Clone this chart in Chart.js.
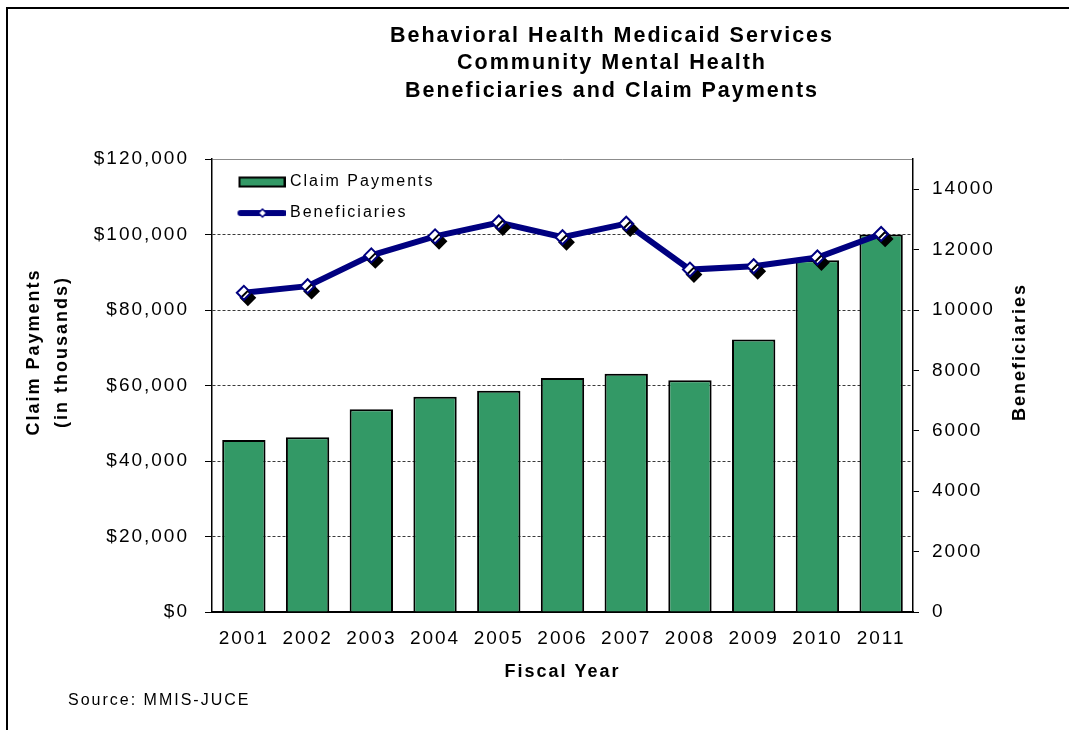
<!DOCTYPE html>
<html>
<head>
<meta charset="utf-8">
<title>Behavioral Health Medicaid Services</title>
<script src="https://cdn.jsdelivr.net/npm/chart.js@4.4.1/dist/chart.umd.min.js"></script>
<style>
  html, body { margin: 0; padding: 0; background: #fff; }
  #wrap { position: relative; width: 1069px; height: 730px; overflow: hidden; }
  #chart { position: absolute; left: 0; top: 0; }
  #frame { position: absolute; left: 6px; top: 7px; right: 0; bottom: 0;
           border-top: 2px solid #000; border-left: 2px solid #000; pointer-events: none; }
</style>
</head>
<body>
<div id="wrap">
  <canvas id="chart" width="1069" height="730"></canvas>
  <div id="frame"></div>
</div>
<script>
// Fiscal years and the two series
const fiscalYears = ['2001', '2002', '2003', '2004', '2005', '2006', '2007', '2008', '2009', '2010', '2011'];
const claimPayments = [45600, 46300, 53700, 57000, 58600, 62000, 63100, 61400, 72200, 93200, 100000];
const beneficiaries = [10570, 10790, 11810, 12440, 12900, 12410, 12860, 11340, 11450, 11740, 12520];

// Axis tick values
const claimTicks = [0, 20000, 40000, 60000, 80000, 100000, 120000];
const beneficiaryTicks = [0, 2000, 4000, 6000, 8000, 10000, 12000, 14000];

// Text
const titleLines = ['Behavioral Health Medicaid Services', 'Community Mental Health', 'Beneficiaries and Claim Payments'];
const leftAxisTitle = ['Claim Payments', '(in thousands)'];
const rightAxisTitle = 'Beneficiaries';
const xAxisTitle = 'Fiscal Year';
const sourceNote = 'Source: MMIS-JUCE';

const FONT = '"Liberation Sans", Arial, Helvetica, sans-serif';
const BAR_GREEN = '#339966';
const NAVY = '#000080';
const SPACING = '2px';

// Legend swatches
function barSwatch() {
  const c = document.createElement('canvas');
  c.width = 62; c.height = 12;
  const g = c.getContext('2d');
  g.fillStyle = BAR_GREEN;
  g.fillRect(16, 1.5, 45, 9);
  g.lineWidth = 2; g.strokeStyle = '#000';
  g.strokeRect(16, 1.5, 45, 9);
  return c;
}
function lineSwatch() {
  const c = document.createElement('canvas');
  c.width = 62; c.height = 14;
  const g = c.getContext('2d');
  g.strokeStyle = NAVY; g.lineWidth = 6; g.lineCap = 'round';
  g.beginPath(); g.moveTo(17, 7); g.lineTo(60, 7); g.stroke();
  g.beginPath();
  g.moveTo(39, 3); g.lineTo(43, 7); g.lineTo(39, 11); g.lineTo(35, 7); g.closePath();
  g.fillStyle = '#fff'; g.fill();
  g.lineWidth = 1.5; g.strokeStyle = NAVY; g.stroke();
  return c;
}
const swatches = [barSwatch(), lineSwatch()];

// Wider tracking for all canvas text
const textSpacing = {
  id: 'textSpacing',
  beforeUpdate(chart) { chart.ctx.letterSpacing = SPACING; },
  beforeDraw(chart) { chart.ctx.letterSpacing = SPACING; }
};

// Title centred over the plot; legend pinned to the top-left of the plot area
const placement = {
  id: 'placement',
  afterLayout(chart) {
    const t = chart.titleBlock;
    if (t) { t.left = 155; t.width = t.right - t.left; }
    const lg = chart.legend;
    const area = chart.chartArea;
    if (lg && area) {
      lg.left = area.left;
      lg.top = area.top;
      lg.right = area.left + lg.width;
      lg.bottom = area.top + lg.height;
    }
  }
};

// Drop shadow under the diamond markers
const markerShadow = {
  id: 'markerShadow',
  beforeDatasetDraw(chart, args) {
    if (args.index !== 2) return;
    const ctx = chart.ctx;
    ctx.save();
    ctx.shadowColor = '#000';
    ctx.shadowBlur = 0;
    ctx.shadowOffsetX = 4;
    ctx.shadowOffsetY = 5;
  },
  afterDatasetDraw(chart, args) {
    if (args.index !== 2) return;
    chart.ctx.restore();
  }
};

// Rotated axis captions and the source note
const captions = {
  id: 'captions',
  afterDraw(chart) {
    const ctx = chart.ctx;
    ctx.save();
    ctx.letterSpacing = SPACING;
    ctx.fillStyle = '#000';
    ctx.textAlign = 'center';
    ctx.textBaseline = 'middle';
    ctx.font = 'bold 18px ' + FONT;
    const midY = 352;
    ctx.save();
    ctx.translate(34, midY);
    ctx.rotate(-Math.PI / 2);
    leftAxisTitle.forEach((line, i) => ctx.fillText(line, 0, i * 28));
    ctx.restore();
    ctx.save();
    ctx.translate(1020, midY);
    ctx.rotate(-Math.PI / 2);
    ctx.fillText(rightAxisTitle, 0, 0);
    ctx.restore();
    ctx.font = '16px ' + FONT;
    ctx.textAlign = 'left';
    ctx.fillText(sourceNote, 68, 701);
    ctx.restore();
  }
};

const tickFont = { family: FONT, size: 19 };

new Chart(document.getElementById('chart'), {
  type: 'bar',
  data: {
    labels: fiscalYears,
    datasets: [
      {
        label: 'Claim Payments',
        data: claimPayments,
        yAxisID: 'y',
        backgroundColor: BAR_GREEN,
        borderColor: '#000',
        borderWidth: 2,
        categoryPercentage: 1,
        barPercentage: 0.68,
        order: 3
      },
      {
        type: 'line',
        label: 'Beneficiaries',
        data: beneficiaries,
        yAxisID: 'y1',
        borderColor: NAVY,
        borderWidth: 6,
        pointRadius: 0,
        tension: 0,
        fill: false,
        order: 2
      },
      {
        type: 'line',
        label: 'Beneficiaries markers',
        data: beneficiaries,
        yAxisID: 'y1',
        showLine: false,
        pointStyle: 'rectRot',
        pointRadius: 7,
        pointBackgroundColor: '#fff',
        pointBorderColor: NAVY,
        pointBorderWidth: 2,
        order: 1
      }
    ]
  },
  options: {
    responsive: false,
    animation: false,
    events: [],
    layout: { padding: { left: 0, right: 0, top: 0, bottom: 43 } },
    plugins: {
      tooltip: { enabled: false },
      title: {
        display: true,
        text: titleLines,
        color: '#000',
        font: { family: FONT, size: 21.5, weight: 'bold', lineHeight: 1.28 },
        padding: { top: 22, bottom: 54.5 }
      },
      legend: {
        position: 'chartArea',
        align: 'start',
        labels: {
          usePointStyle: true,
          pointStyleWidth: 55,
          padding: 15,
          color: '#000',
          font: { family: FONT, size: 16 },
          generateLabels(chart) {
            return [0, 1].map(i => ({
              text: chart.data.datasets[i].label,
              pointStyle: swatches[i],
              datasetIndex: i,
              hidden: false,
              fontColor: '#000',
              fillStyle: 'transparent',
              strokeStyle: 'transparent',
              lineWidth: 0
            }));
          }
        }
      }
    },
    scales: {
      x: {
        grid: { display: false },
        border: { display: true, color: '#000', width: 2 },
        ticks: { color: '#000', font: tickFont, padding: 7 },
        title: {
          display: true,
          text: xAxisTitle,
          color: '#000',
          font: { family: FONT, size: 18, weight: 'bold', lineHeight: 1.2 },
          padding: { top: 4, bottom: 4 }
        },
        afterFit(scale) { scale.height = 75; }
      },
      y: {
        position: 'left',
        min: 0,
        max: 120000,
        afterBuildTicks(scale) { scale.ticks = claimTicks.map(v => ({ value: v })); },
        ticks: {
          color: '#000',
          font: tickFont,
          padding: 16,
          callback: v => '$' + Number(v).toLocaleString('en-US')
        },
        grid: {
          color: ctx => (ctx.tick && ctx.tick.value === 120000) ? '#8c8c8c' : (ctx.tick && ctx.tick.value === 0 ? 'rgba(0,0,0,0)' : '#3a3a3a'),
          lineWidth: 1,
          tickLength: 7,
          tickColor: '#000',
          tickWidth: 1
        },
        border: {
          display: true,
          color: '#000',
          width: 1.5,
          dash: ctx => (ctx.tick && ctx.tick.value === 120000) ? [] : [3, 2]
        },
        afterFit(scale) { scale.width = 212; }
      },
      y1: {
        position: 'right',
        min: 0,
        max: 15000,
        afterBuildTicks(scale) { scale.ticks = beneficiaryTicks.map(v => ({ value: v })); },
        ticks: { color: '#000', font: tickFont, padding: 13, callback: v => String(v) },
        grid: {
          drawOnChartArea: false,
          drawTicks: true,
          tickLength: 6,
          tickColor: '#000',
          tickWidth: 1
        },
        border: { display: true, color: '#000', width: 1.5 },
        afterFit(scale) { scale.width = 156; }
      }
    }
  },
  plugins: [textSpacing, placement, markerShadow, captions]
});
</script>
</body>
</html>
